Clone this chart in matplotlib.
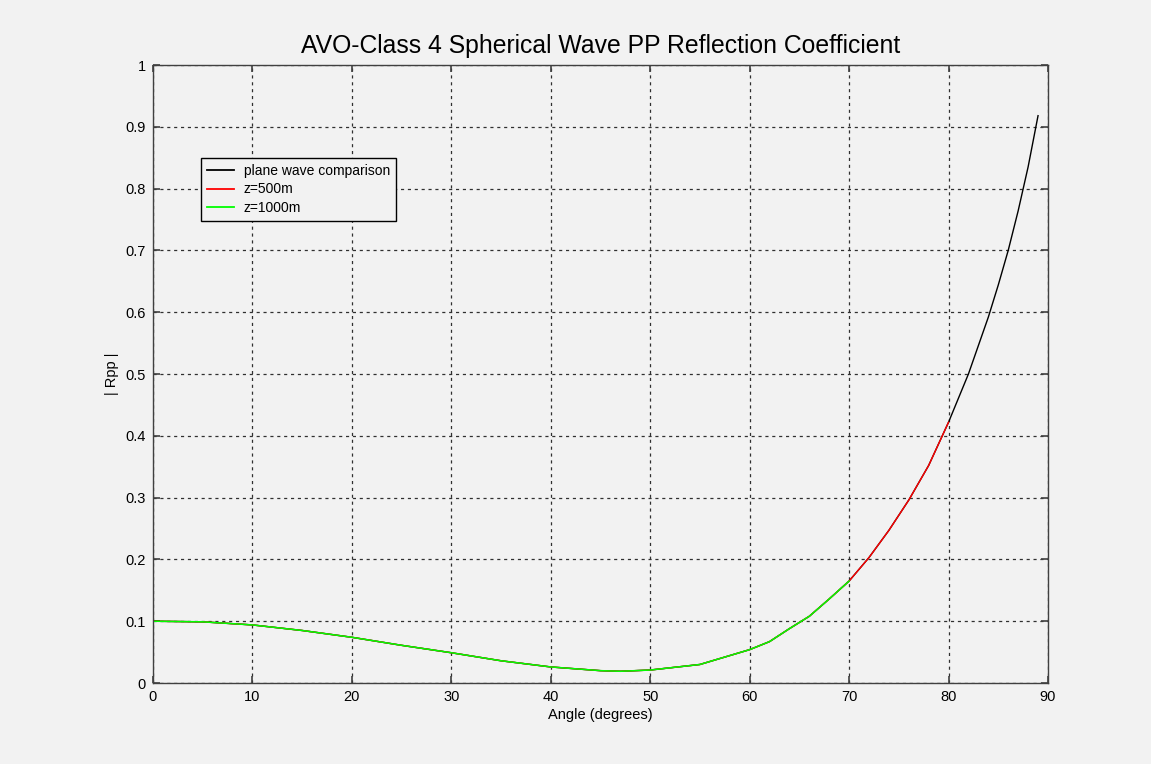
import matplotlib
matplotlib.use('Agg')
import matplotlib.pyplot as plt

# ── Data ─────────────────────────────────────────────────────
angle_deg = [0, 5, 10, 15, 20, 25, 30, 35, 40, 45, 47, 50, 55, 60,
             62, 64, 66, 68, 70, 72, 74, 76, 78, 80, 82, 84, 85, 86,
             87, 88, 89]
rpp_plane = [0.100, 0.099, 0.094, 0.085, 0.074, 0.061, 0.049, 0.036,
             0.026, 0.020, 0.019, 0.021, 0.030, 0.054, 0.067, 0.088,
             0.108, 0.136, 0.165, 0.203, 0.247, 0.296, 0.352, 0.422,
             0.500, 0.592, 0.644, 0.700, 0.764, 0.835, 0.918]

# spherical-wave curves overlap the plane wave up to where they stop
angle_500 = angle_deg[:24]      # 0 .. 80 deg
rpp_500 = rpp_plane[:24]
angle_1000 = angle_deg[:19]     # 0 .. 70 deg
rpp_1000 = rpp_plane[:19]

x_ticks = [0, 10, 20, 30, 40, 50, 60, 70, 80, 90]
y_ticks = [0, 0.1, 0.2, 0.3, 0.4, 0.5, 0.6, 0.7, 0.8, 0.9, 1]

BG = '#f2f2f2'

plt.rcParams['font.family'] = ['Liberation Sans', 'DejaVu Sans']

fig = plt.figure(figsize=(11.51, 7.64), dpi=100, facecolor=BG)
ax = fig.add_axes([0.1329, 0.1060, 0.7776, 0.8089])
ax.set_facecolor(BG)

ax.plot(angle_deg, rpp_plane, color='black', lw=1.0, label='plane wave comparison')
ax.plot(angle_500, rpp_500, color='#ff0000', lw=1.0, label='z=500m')
ax.plot(angle_1000, rpp_1000, color='#00ff00', lw=1.1, label='z=1000m')

ax.set_xlim(0, 90)
ax.set_ylim(0, 1)
ax.set_xticks(x_ticks)
ax.set_yticks(y_ticks)
ax.set_xticklabels([str(t) for t in x_ticks])
ax.set_yticklabels(['0', '0.1', '0.2', '0.3', '0.4', '0.5', '0.6', '0.7', '0.8', '0.9', '1'])
ax.tick_params(direction='in', top=True, right=True, length=5, width=1.2,
               color='#404040', labelsize=10.5, pad=5)

ax.grid(True, color='#303030', linestyle=(0, (2.5, 3)), linewidth=0.9)
for sp in ax.spines.values():
    sp.set_color('#404040')
    sp.set_linewidth(1.0)

ax.set_title('AVO-Class 4 Spherical Wave PP Reflection Coefficient', fontsize=17.8, pad=9)
ax.set_xlabel('Angle (degrees)', fontsize=10.5, labelpad=3)
ax.set_ylabel('| Rpp |', fontsize=10.5, labelpad=5)

leg = ax.legend(loc='upper left', bbox_to_anchor=(0.0536, 0.8495), borderaxespad=0,
                fontsize=10, fancybox=False, framealpha=1, facecolor=BG,
                edgecolor='black', handlelength=1.9, handletextpad=0.75,
                borderpad=0.45, labelspacing=0.3)
leg.get_frame().set_linewidth(1.0)
for line in leg.get_lines():
    line.set_linewidth(1.3)

fig.savefig('out.png', dpi=100, facecolor=BG)
